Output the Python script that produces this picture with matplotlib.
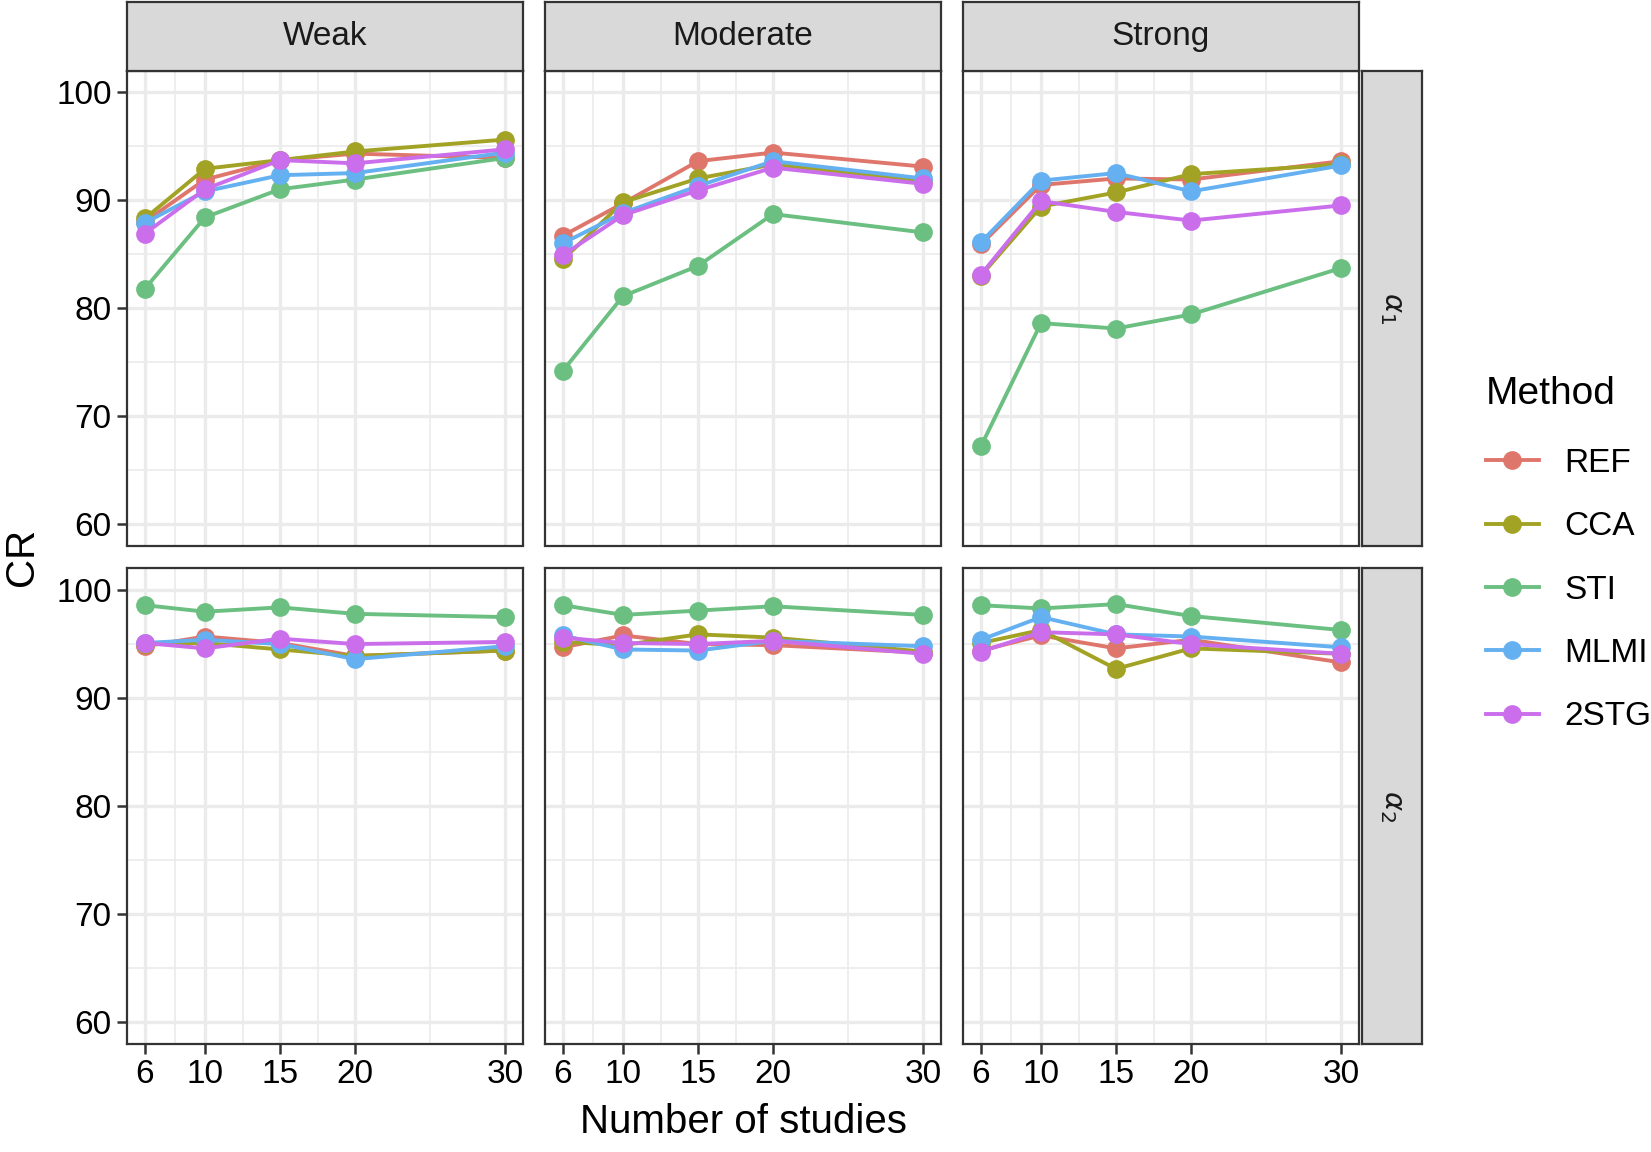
import matplotlib
matplotlib.use("Agg")
import matplotlib.pyplot as plt
from matplotlib.lines import Line2D
import numpy as np

plt.rcParams['font.family'] = ['Liberation Sans', 'DejaVu Sans']

studies = [6, 10, 15, 20, 30]
methods = ["REF", "CCA", "STI", "MLMI", "2STG"]
colors = ["#DF766C", "#A2A324", "#6BBF81", "#64B0F0", "#CB6EEB"]
strengths = ["Weak", "Moderate", "Strong"]
params = [r"$\alpha_1$", r"$\alpha_2$"]

# alpha1, coverage rate by method
a1_weak = {
  "REF":  [88.0, 91.9, 93.7, 94.3, 93.9],
  "CCA":  [88.3, 92.9, 93.7, 94.5, 95.6],
  "STI":  [81.8, 88.4, 91.0, 91.9, 93.9],
  "MLMI": [87.9, 90.8, 92.3, 92.5, 94.4],
  "2STG": [86.9, 91.0, 93.7, 93.4, 94.7],
}
a1_moderate = {
  "REF":  [86.7, 89.7, 93.6, 94.4, 93.1],
  "CCA":  [84.5, 89.8, 92.0, 93.3, 91.8],
  "STI":  [74.2, 81.1, 83.9, 88.7, 87.0],
  "MLMI": [86.0, 88.8, 91.3, 93.6, 92.0],
  "2STG": [84.9, 88.6, 90.9, 93.0, 91.5],
}
a1_strong = {
  "REF":  [85.9, 91.4, 92.0, 91.9, 93.6],
  "CCA":  [83.0, 89.4, 90.7, 92.4, 93.3],
  "STI":  [67.2, 78.6, 78.1, 79.4, 83.7],
  "MLMI": [86.1, 91.8, 92.5, 90.8, 93.2],
  "2STG": [83.1, 89.9, 88.9, 88.1, 89.5],
}
# alpha2
a2_weak = {
  "REF":  [94.8, 95.7, 95.1, 93.9, 94.4],
  "CCA":  [95.0, 95.1, 94.5, 93.9, 94.4],
  "STI":  [98.6, 98.0, 98.4, 97.8, 97.5],
  "MLMI": [95.1, 95.4, 95.0, 93.6, 94.8],
  "2STG": [95.1, 94.6, 95.5, 95.0, 95.2],
}
a2_moderate = {
  "REF":  [94.7, 95.8, 95.0, 94.9, 94.2],
  "CCA":  [95.2, 94.9, 95.9, 95.6, 94.3],
  "STI":  [98.6, 97.7, 98.1, 98.5, 97.7],
  "MLMI": [95.8, 94.5, 94.4, 95.3, 94.8],
  "2STG": [95.6, 95.1, 95.0, 95.3, 94.1],
}
a2_strong = {
  "REF":  [94.4, 95.8, 94.6, 95.4, 93.3],
  "CCA":  [95.1, 96.3, 92.7, 94.6, 94.1],
  "STI":  [98.6, 98.3, 98.7, 97.6, 96.3],
  "MLMI": [95.4, 97.5, 95.9, 95.7, 94.7],
  "2STG": [94.3, 96.1, 95.9, 95.0, 94.1],
}
data = [[a1_weak, a1_moderate, a1_strong], [a2_weak, a2_moderate, a2_strong]]

W, H = 1651, 1152
fig = plt.figure(figsize=(W / 100, H / 100), dpi=100)

def px_axes(x0, y0, w, h):
  # x0, y0 = top-left in pixels
  return fig.add_axes([x0 / W, 1 - (y0 + h) / H, w / W, h / H])

lefts = [127, 545, 963]
pw = 396
tops = [70.5, 568.5]
ph = 475
dark = "#333333"
lw = 2.8
ms = 13.5

for r in range(2):
  for c in range(3):
    ax = px_axes(lefts[c], tops[r], pw, ph)
    ax.set_facecolor("white")
    ax.set_xlim(4.8, 31.2)
    ax.set_ylim(58.0, 102.0)
    ax.set_xticks(studies)
    ax.set_xticks([8, 12.5, 17.5, 25], minor=True)
    ax.set_yticks([60, 70, 80, 90, 100])
    ax.set_yticks([65, 75, 85, 95], minor=True)
    ax.grid(which="major", color="#EBEBEB", linewidth=2.4)
    ax.grid(which="minor", color="#EBEBEB", linewidth=1.2)
    ax.set_axisbelow(True)
    for s in ax.spines.values():
      s.set_color(dark)
      s.set_linewidth(1.6)
    ax.tick_params(which="minor", length=0)
    ax.tick_params(which="major", length=7, width=1.8, color=dark,
                   labelsize=24, labelcolor="black", pad=4)
    if c != 0:
      ax.tick_params(axis="y", which="major", length=0, labelleft=False)
    if r != 1:
      ax.tick_params(axis="x", which="major", length=0, labelbottom=False)
    d = data[r][c]
    for m, col in zip(methods, colors):
      ax.plot(studies, d[m], color=col, linewidth=lw, marker="o",
              markersize=ms, markeredgewidth=0, zorder=3)

# top strips
for c in range(3):
  sa = px_axes(lefts[c], 2, pw, 68.5)
  sa.set_facecolor("#D9D9D9")
  sa.set_xticks([])
  sa.set_yticks([])
  for s in sa.spines.values():
    s.set_color(dark)
    s.set_linewidth(1.6)
  sa.text(0.5, 0.5, strengths[c], transform=sa.transAxes, ha="center",
          va="center", fontsize=24, color="#1A1A1A")

# right strips
for r in range(2):
  sa = px_axes(1361.5, tops[r], 60, ph)
  sa.set_facecolor("#D9D9D9")
  sa.set_xticks([])
  sa.set_yticks([])
  for s in sa.spines.values():
    s.set_color(dark)
    s.set_linewidth(1.6)
  sa.text(0.5, 0.5, params[r], transform=sa.transAxes, ha="center",
          va="center", fontsize=21, rotation=-90, color="#1A1A1A")

fig.text(22 / W, 1 - 557 / H, "CR", rotation=90, ha="center", va="center",
         fontsize=29)
fig.text(743 / W, 1 - 1122 / H, "Number of studies", ha="center",
         va="center", fontsize=29)

handles = [Line2D([], [], color=col, linewidth=lw, marker="o",
                  markersize=ms, markeredgewidth=0) for col in colors]
leg = fig.legend(handles, methods, loc="upper left",
                 bbox_to_anchor=(1486 / W, 1 - 376 / H), frameon=False,
                 fontsize=24, title="Method", title_fontsize=28,
                 handlelength=1.58, handletextpad=0.76, labelspacing=0.97,
                 alignment="left", borderaxespad=0, borderpad=0)
leg._legend_box.sep = 26

fig.savefig("out.png", dpi=100, facecolor="white")
